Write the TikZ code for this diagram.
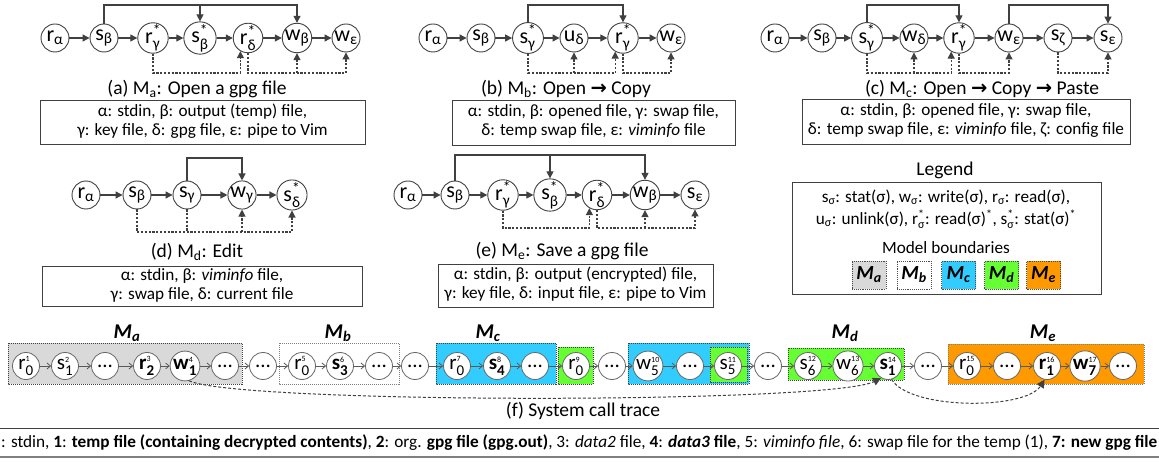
\documentclass[tikz,border=0pt]{standalone}
\usepackage{fontspec}
\usepackage{amsmath}
\usepackage{graphicx}
\setmainfont{Carlito}
\newfontfamily\arrfont{DejaVu Sans}
\usetikzlibrary{arrows.meta}
\definecolor{ln}{HTML}{404040}
\definecolor{mgray}{HTML}{D9D9D9}
\definecolor{mcyan}{HTML}{33CCFF}
\definecolor{mgreen}{HTML}{66FF33}
\definecolor{morange}{HTML}{FF9900}
\newcommand{\ns}[2]{$\text{#1}_{\text{#2}}$}
\newcommand{\nst}[2]{$\text{#1}^{\text{*}}_{\text{#2}}$}
\newcommand{\trl}[3]{$\text{#1}^{\text{\fontsize{8}{8}\selectfont #3}}_{\text{\fontsize{15}{15}\selectfont #2}}$}
\newcommand{\trlb}[3]{$\text{\bfseries #1}^{\text{\fontsize{8}{8}\selectfont #3}}_{\text{\fontsize{15}{15}\selectfont\bfseries #2}}$}
\newcommand{\rar}{{\arrfont\bfseries →}}
\newcommand{\twol}[2]{\begin{tabular}{@{}c@{}}#1\\#2\end{tabular}}
\begin{document}
\begin{tikzpicture}[x=1pt,y=-1pt,
  cn/.style={circle,draw=ln,line width=0.9pt,minimum size=28pt,inner sep=0pt,font=\fontsize{22}{22}\selectfont,fill=white},
  tn/.style={circle,draw=gray!80!black,line width=0.8pt,minimum size=27pt,inner sep=0pt,font=\fontsize{21}{21}\selectfont,fill=white},
  sl/.style={draw=ln,line width=1.2pt},
  tri/.style={-{Triangle[length=7pt,width=7pt]}},
  dl/.style={draw=ln,line width=1.1pt,dash pattern=on 2.2pt off 1.6pt},
  tarr/.style={draw=gray!70!black,line width=0.8pt,-{Straight Barb[length=3.5pt,width=6pt]}},
  dc/.style={draw=ln,line width=1pt,dash pattern=on 3pt off 2pt,-{Triangle[length=8pt,width=8pt]}},
  captxt/.style={font=\fontsize{19.5}{19.5}\selectfont,inner sep=0pt},
  bx/.style={draw=ln,line width=0.9pt},
  btxt/.style={font=\fontsize{17.2}{19}\selectfont,inner sep=0pt},
  lbox/.style={rectangle,draw=black!70,densely dotted,line width=0.9pt,minimum width=34pt,minimum height=28pt,inner sep=0pt,font=\fontsize{20}{20}\selectfont\bfseries\itshape},
  mlab/.style={font=\fontsize{21}{21}\selectfont\bfseries\itshape,inner sep=0pt},
  mbnd/.style={densely dotted,line width=1pt,draw=black!75},
]
\useasboundingbox (0,0) rectangle (1159,462);
\fill[white] (0,0) rectangle (1159,462);

% ---------- (a)
\node[cn] (a1) at (55,38) {\ns{r}{α}};
\node[cn] (a2) at (104,38) {\ns{s}{β}};
\node[cn] (a3) at (153,38) {\nst{r}{γ}};
\node[cn] (a4) at (200,38) {\nst{s}{β}};
\node[cn] (a5) at (248,38) {\nst{r}{δ}};
\node[cn] (a6) at (297,38) {\ns{w}{β}};
\node[cn] (a7) at (346,38) {\ns{w}{ε}};
\foreach \i in {1,...,6}{\pgfmathtruncatemacro\j{\i+1}\draw[sl,tri] (a\i) -- (a\j);}
\coordinate (aT) at (0,5); \coordinate (aD) at (0,73);
\draw[sl,tri] (a2.north) -- (a2.north |- aT) -| (a6.north);
\draw[sl,tri] (a4.north |- aT) -- (a4.north);
\draw[dl,tri] (a3.south) -- (a3.south |- aD) -| (a5.-120);
\draw[dl,tri] (a5.south) -- (a5.south |- aD) -| (a7.south);
\draw[dl,tri] (a6.south |- aD) -- (a6.south);
\node[captxt] (capa) at (197,89) {(a) M\textsubscript{a}: Open a gpg file};
\draw[bx] (40,100) rectangle (365,144);
\node[btxt] (ta) at (202.5,122) {\twol{α: stdin, β: output (temp) file,}{γ: key file, δ: gpg file, ε: pipe to Vim}};

% ---------- (b)
\node[cn] (b1) at (433,38) {\ns{r}{α}};
\node[cn] (b2) at (481,38) {\ns{s}{β}};
\node[cn] (b3) at (528,38) {\nst{s}{γ}};
\node[cn] (b4) at (574,38) {\ns{u}{δ}};
\node[cn] (b5) at (623,38) {\nst{r}{γ}};
\node[cn] (b6) at (671,38) {\ns{w}{ε}};
\foreach \i in {1,...,5}{\pgfmathtruncatemacro\j{\i+1}\draw[sl,tri] (b\i) -- (b\j);}
\coordinate (bT) at (0,5); \coordinate (bD) at (0,73);
\draw[sl,tri] (b3.north) -- (b3.north |- bT) -| (b5.north);
\draw[dl,tri] (b3.south) -- (b3.south |- bD) -| (b5.-120);
\draw[dl,tri] (b4.south |- bD) -- (b4.south);
\draw[dl,tri] (b5.south) -- (b5.south |- bD) -| (b6.south);
\node[captxt] (capb) at (566,89) {(b) M\textsubscript{b}: Open \rar{} Copy};
\draw[bx] (452,100) rectangle (735,145);
\node[btxt] (tb) at (593.5,122.5) {\twol{α: stdin, β: opened file, γ: swap file,}{δ: temp swap file, ε: \textit{viminfo} file}};

% ---------- (c)
\node[cn] (c1) at (775,38) {\ns{r}{α}};
\node[cn] (c2) at (822,38) {\ns{s}{β}};
\node[cn] (c3) at (867,38) {\nst{s}{γ}};
\node[cn] (c4) at (914,38) {\ns{w}{δ}};
\node[cn] (c5) at (959,38) {\nst{r}{γ}};
\node[cn] (c6) at (1009,38) {\ns{w}{ε}};
\node[cn] (c7) at (1058,38) {\ns{s}{ζ}};
\node[cn] (c8) at (1108,38) {\ns{s}{ε}};
\foreach \i in {1,...,7}{\pgfmathtruncatemacro\j{\i+1}\draw[sl,tri] (c\i) -- (c\j);}
\coordinate (cT) at (0,5); \coordinate (cD) at (0,73);
\draw[sl,tri] (c3.north) -- (c3.north |- cT) -| (c5.north);
\draw[sl,tri] (c6.north) -- (c6.north |- cT) -| (c8.north);
\draw[dl,tri] (c3.south) -- (c3.south |- cD) -| (c5.-120);
\draw[dl,tri] (c4.south |- cD) -- (c4.south);
\draw[dl,tri] (c5.south) -- (c5.south |- cD) -| (c6.south);
\draw[dl,tri] (c7.south) -- (c7.south |- cD) -| (c8.south);
\node[captxt] (capc) at (982,89) {(c) M\textsubscript{c}: Open \rar{} Copy \rar{} Paste};
\draw[bx] (802,99) rectangle (1130,144);
\node[btxt] (tc) at (966,121.5) {\twol{α: stdin, β: opened file, γ: swap file,}{δ: temp swap file, ε: \textit{viminfo} file, ζ: config file}};

% ---------- (d)
\node[cn] (d1) at (86,195) {\ns{r}{α}};
\node[cn] (d2) at (137,195) {\ns{s}{β}};
\node[cn] (d3) at (187,195) {\ns{s}{γ}};
\node[cn] (d4) at (242,195) {\ns{w}{γ}};
\node[cn] (d5) at (292,195) {\nst{s}{δ}};
\foreach \i in {1,...,4}{\pgfmathtruncatemacro\j{\i+1}\draw[sl,tri] (d\i) -- (d\j);}
\coordinate (dT) at (0,158); \coordinate (dD) at (0,232);
\draw[sl,tri] (d3.north) -- (d3.north |- dT) -| (d4.north);
\draw[dl,tri] (d2.south) |- (d5.south |- dD) -- (d5.south);
\draw[dl] (d3.south) -- (d3.south |- dD);
\draw[dl,tri] (d4.south |- dD) -- (d4.south);
\node[captxt] (capd) at (197,252) {(d) M\textsubscript{d}: Edit};
\draw[bx] (42,266) rectangle (362,306);
\node[btxt] (td) at (202,286) {\twol{α: stdin, β: \textit{viminfo} file,}{γ: swap file, δ: current file}};

% ---------- (e)
\node[cn] (e1) at (408,195) {\ns{r}{α}};
\node[cn] (e2) at (455,195) {\ns{s}{β}};
\node[cn] (e3) at (503,195) {\nst{r}{γ}};
\node[cn] (e4) at (550,195) {\nst{s}{β}};
\node[cn] (e5) at (597,195) {\nst{r}{δ}};
\node[cn] (e6) at (645,195) {\ns{w}{β}};
\node[cn] (e7) at (695,195) {\ns{s}{ε}};
\foreach \i in {1,...,6}{\pgfmathtruncatemacro\j{\i+1}\draw[sl,tri] (e\i) -- (e\j);}
\coordinate (eT) at (0,155); \coordinate (eD) at (0,228);
\draw[sl,tri] (e2.north) -- (e2.north |- eT) -| (e6.north);
\draw[sl,tri] (e4.north |- eT) -- (e4.north);
\draw[dl,tri] (e3.south) -- (e3.south |- eD) -| (e5.-120);
\draw[dl,tri] (e5.south) -- (e5.south |- eD) -| (e7.south);
\draw[dl,tri] (e6.south |- eD) -- (e6.south);
\node[captxt] (cape) at (562,251) {(e) M\textsubscript{e}: Save a gpg file};
\draw[bx] (438,264) rectangle (713,307);
\node[btxt] (te) at (575.5,285.5) {\twol{α: stdin, β: output (encrypted) file,}{γ: key file, δ: input file, ε: pipe to Vim}};

% ---------- Legend
\node[captxt] (lg) at (945,170) {Legend};
\draw[bx] (792,182) rectangle (1101,294);
\node[btxt,font=\fontsize{17.2}{22}\selectfont] (lt) at (946,209) {\twol{s\textsubscript{σ}: stat(σ), w\textsubscript{σ}: write(σ), r\textsubscript{σ}: read(σ),}{u\textsubscript{σ}: unlink(σ), \nst{r}{σ}: read(σ)\textsuperscript{*}, \nst{s}{σ}: stat(σ)\textsuperscript{*}}};
\node[btxt] (mbl) at (946,248) {Model boundaries};
\node[lbox,fill=mgray] (la) at (869,275) {M\textsubscript{a}};
\node[lbox,fill=white] (lb2) at (914,275) {M\textsubscript{b}};
\node[lbox,fill=mcyan] (lc) at (958.5,275) {M\textsubscript{c}};
\node[lbox,fill=mgreen] (ld) at (1001.5,275) {M\textsubscript{d}};
\node[lbox,fill=morange] (le) at (1043.5,275) {M\textsubscript{e}};

% ---------- (f) trace boxes
\filldraw[mbnd,fill=mgray] (8,343) rectangle (242,384);
\filldraw[mbnd,fill=white,draw=gray] (279,343) rectangle (399,384);
\filldraw[mbnd,fill=mcyan] (436,343) rectangle (556,384);
\filldraw[mbnd,fill=mgreen] (558,347) rectangle (593,384);
\filldraw[mbnd,fill=mcyan] (628,343) rectangle (749,384);
\filldraw[mbnd,fill=mgreen] (710,347) rectangle (747,382);
\filldraw[mbnd,fill=mgreen] (788,348) rectangle (904,380);
\filldraw[mbnd,fill=morange,draw=gray] (948,344) rectangle (1144,384);
\node[mlab] (lMa) at (127,333) {M\textsubscript{a}};
\node[mlab] (lMb) at (338,333) {M\textsubscript{b}};
\node[mlab] (lMc) at (488,333) {M\textsubscript{c}};
\node[mlab] (lMd) at (845,333) {M\textsubscript{d}};
\node[mlab] (lMe) at (1043,333) {M\textsubscript{e}};

\node[tn] (t1) at (26,366) {\trl{r}{0}{1}};
\node[tn] (t2) at (65,366) {\trl{s}{1}{2}};
\node[tn] (t3) at (105,366) {...};
\node[tn] (t4) at (147,366) {\trlb{r}{2}{3}};
\node[tn] (t5) at (185,366) {\trlb{w}{1}{4}};
\node[tn] (t6) at (225,366) {...};
\node[tn] (t7) at (263,366) {...};
\node[tn] (t8) at (302,366) {\trl{r}{0}{5}};
\node[tn] (t9) at (340,366) {\trlb{s}{3}{6}};
\node[tn] (t10) at (379,366) {...};
\node[tn] (t11) at (415,366) {...};
\node[tn] (t12) at (457,366) {\trl{r}{0}{7}};
\node[tn] (t13) at (497,366) {\trlb{s}{4}{8}};
\node[tn] (t14) at (535,366) {...};
\node[tn] (t15) at (576,366) {\trl{r}{0}{9}};
\node[tn] (t16) at (612,366) {...};
\node[tn] (t17) at (648,366) {\trl{w}{5}{10}};
\node[tn] (t18) at (690,366) {...};
\node[tn] (t19) at (728,366) {\trl{s}{5}{11}};
\node[tn] (t20) at (768,366) {...};
\node[tn] (t21) at (808,366) {\trl{s}{6}{12}};
\node[tn] (t22) at (848,366) {\trl{w}{6}{13}};
\node[tn] (t23) at (888,366) {\trlb{s}{1}{14}};
\node[tn] (t24) at (928,366) {...};
\node[tn] (t25) at (967,366) {\trl{r}{0}{15}};
\node[tn] (t26) at (1007,366) {...};
\node[tn] (t27) at (1047,366) {\trlb{r}{1}{16}};
\node[tn] (t28) at (1085,366) {\trlb{w}{7}{17}};
\node[tn] (t29) at (1123,366) {...};
\foreach \i in {1,...,28}{\pgfmathtruncatemacro\j{\i+1}\draw[tarr] (t\i) -- (t\j);}
\draw[dc] (t5.-75) .. controls (240,404) and (830,404) .. (t23.-120);
\draw[dc] (t23.-75) .. controls (910,410) and (1025,410) .. (t27.-100);
\node[captxt] (capf) at (583,411) {(f) System call trace};

% ---------- bottom text
\draw[ln,line width=0.9pt] (0,428) -- (1159,428);
\draw[gray,line width=1.5pt] (0,457) -- (1159,457);
\node[anchor=west,inner sep=0pt] (btm) at (1,443) {\resizebox{1156pt}{!}{\fontsize{15}{15}\selectfont : stdin, \textbf{1}: \textbf{temp file (containing decrypted contents)}, \textbf{2}: org. \textbf{gpg file (gpg.out)}, 3: \textit{data2} file, \textbf{4}: \textbf{\textit{data3} file}, 5: \textit{viminfo file}, 6: swap file for the temp (1), \textbf{7: new gpg file}}};
\end{tikzpicture}
\end{document}
